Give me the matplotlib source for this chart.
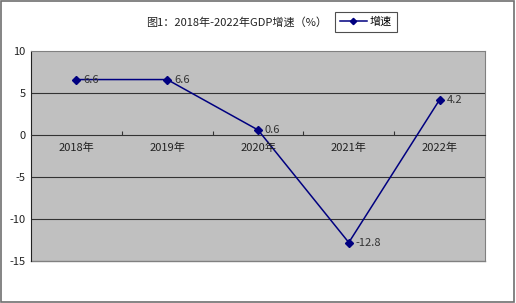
import matplotlib
matplotlib.use("Agg")
import matplotlib.pyplot as plt
from matplotlib.patches import Rectangle

plt.rcParams['font.family'] = ['Noto Sans CJK SC', 'DejaVu Sans']

# data
years = ["2018年", "2019年", "2020年", "2021年", "2022年"]
growth = [6.6, 6.6, 0.6, -12.8, 4.2]
yticks = [-15, -10, -5, 0, 5, 10]

NAVY = "#000080"

fig = plt.figure(figsize=(5.16, 3.03), dpi=100)
fig.patch.set_facecolor("white")
fig.patches.append(Rectangle((0.002, 0.002), 0.994, 0.994, transform=fig.transFigure,
                             fill=False, edgecolor="#707070", linewidth=1.2))

ax = fig.add_axes([31/516, 1 - 261/303, 454/516, 210/303])
ax.set_facecolor("#C0C0C0")

x = list(range(len(years)))
line, = ax.plot(x, growth, color=NAVY, linewidth=1.1, marker="D", markersize=4,
                markerfacecolor=NAVY, markeredgecolor=NAVY, label="增速", zorder=3)

for xi, v in zip(x, growth):
    ax.annotate(f"{v}", (xi, v), xytext=(5, 0), textcoords="offset points",
                ha="left", va="center", fontsize=8, color="#333333", zorder=4)

ax.set_xlim(-0.5, 4.5)
ax.set_ylim(-15, 10)
ax.set_yticks(yticks)
ax.set_yticklabels([str(t) for t in yticks], fontsize=8, color="#222222")
ax.tick_params(axis="y", length=0, pad=4)

for t in [5, -5, -10]:
    ax.axhline(t, color="#333333", linewidth=0.8, zorder=1)

# category axis sits on zero
ax.spines["bottom"].set_position(("data", 0))
ax.spines["bottom"].set_color("#333333")
ax.spines["bottom"].set_linewidth(0.8)
ax.set_xticks([i + 0.5 for i in range(len(years) - 1)])
ax.set_xticklabels([])
ax.tick_params(axis="x", direction="in", length=3, color="#333333")
for xi, lab in zip(x, years):
    ax.text(xi, -0.9, lab, ha="center", va="top", fontsize=8, color="#222222")

ax.spines["left"].set_color("#222222")
for s in ["top", "right"]:
    ax.spines[s].set_color("#808080")
# bottom frame edge of plot area
ax.plot([0, 1], [0, 0], transform=ax.transAxes, color="#808080", linewidth=1, clip_on=False)

fig.text(237/516, 1 - 22/303, "图1：2018年-2022年GDP增速（%）", ha="center", va="center",
         fontsize=8, color="#222222")
leg = fig.legend(handles=[line], loc="center", bbox_to_anchor=(366/516, 1 - 22/303),
                 fontsize=8, frameon=True, fancybox=False, edgecolor="#222222",
                 handlelength=2.4, borderpad=0.45, handletextpad=0.3, markerscale=0.8)
leg.get_frame().set_linewidth(0.8)

fig.savefig("out.png", dpi=100)
